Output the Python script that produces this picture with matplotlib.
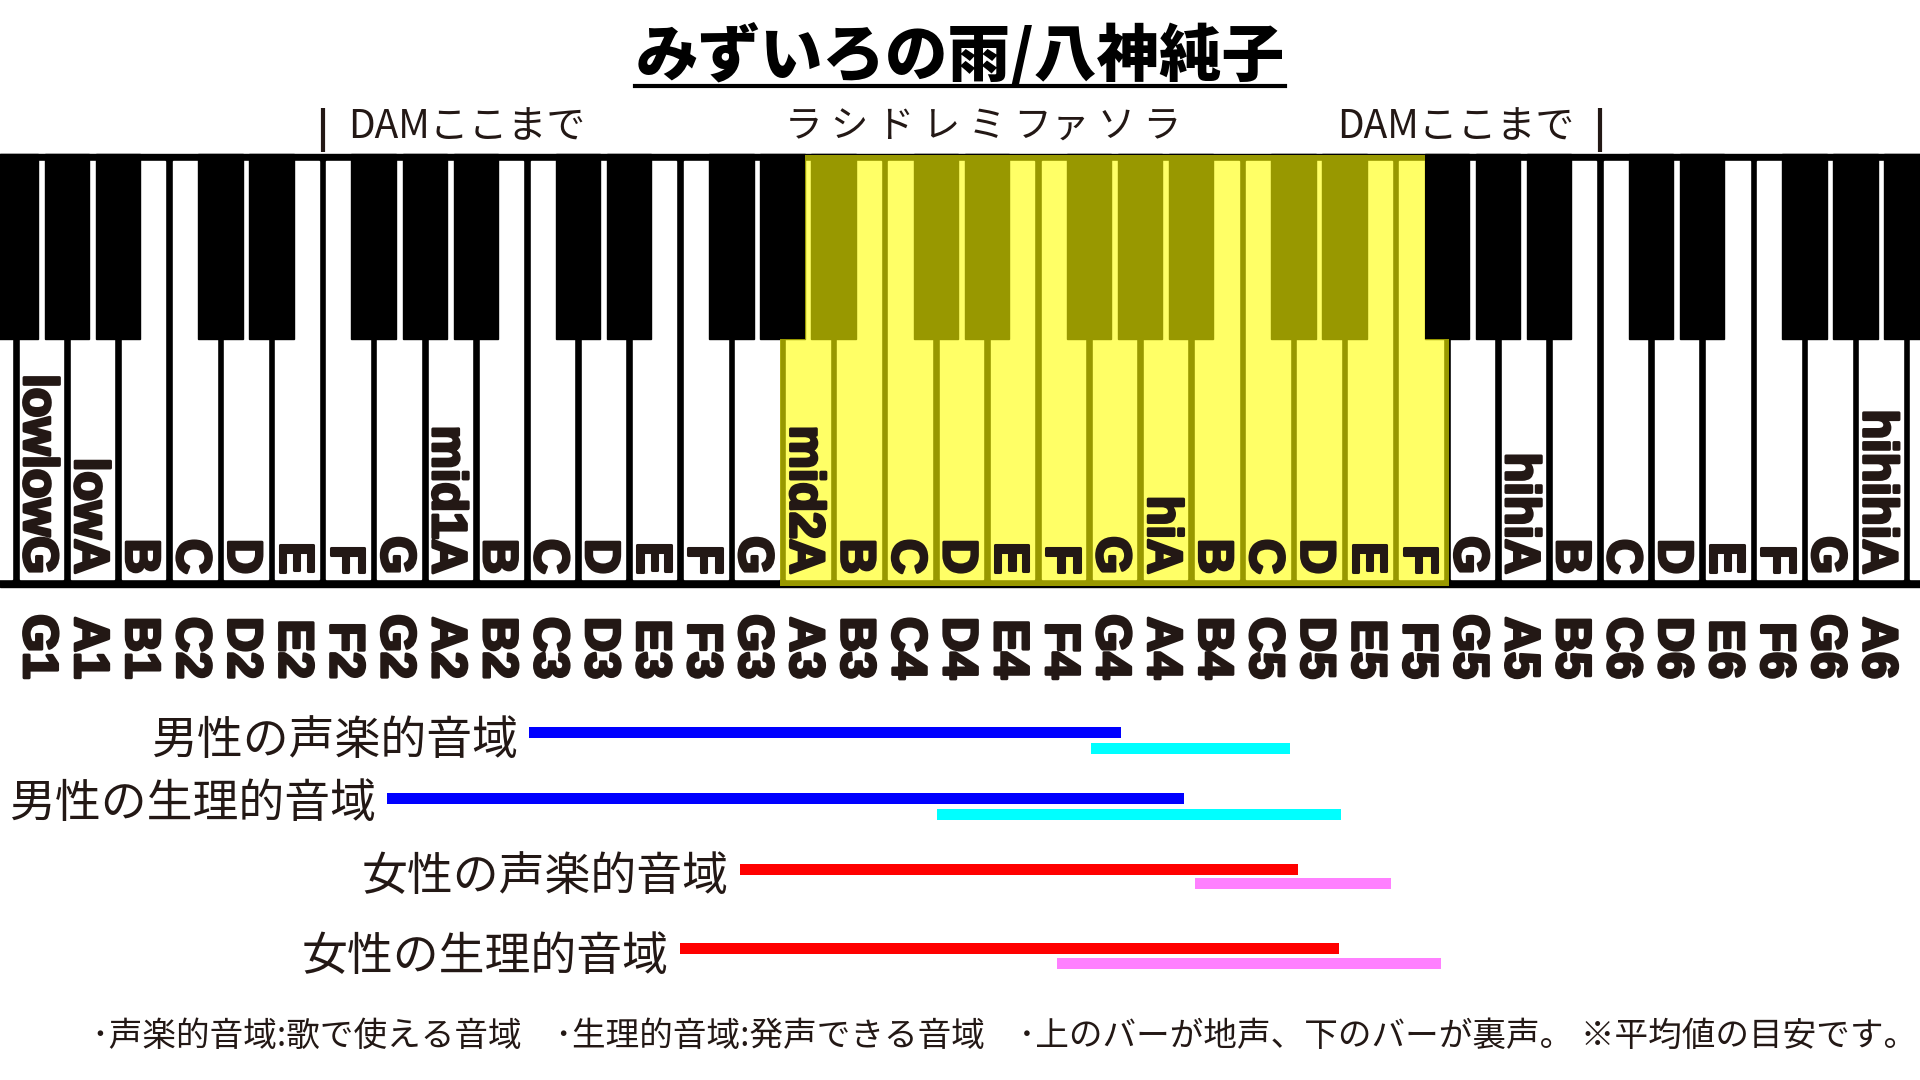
import matplotlib
matplotlib.use('Agg')
import matplotlib.pyplot as plt
import matplotlib.patheffects as pe
from matplotlib.patches import Rectangle, Polygon
from matplotlib.lines import Line2D

plt.rcParams['font.family'] = ['Noto Sans CJK JP', 'DejaVu Sans']

# ---- data -------------------------------------------------------------
# white keys from G1 (index 0) to A6 (index 36)
NOTE_LABELS = ['G1', 'A1', 'B1', 'C2', 'D2', 'E2', 'F2', 'G2', 'A2', 'B2',
               'C3', 'D3', 'E3', 'F3', 'G3', 'A3', 'B3', 'C4', 'D4', 'E4',
               'F4', 'G4', 'A4', 'B4', 'C5', 'D5', 'E5', 'F5', 'G5', 'A5',
               'B5', 'C6', 'D6', 'E6', 'F6', 'G6', 'A6']
KEY_NAMES = ['lowlowG', 'lowA', 'B', 'C', 'D', 'E', 'F', 'G', 'mid1A',
             'B', 'C', 'D', 'E', 'F', 'G', 'mid2A',
             'B', 'C', 'D', 'E', 'F', 'G', 'hiA',
             'B', 'C', 'D', 'E', 'F', 'G', 'hihiA',
             'B', 'C', 'D', 'E', 'F', 'G', 'hihihiA']

SONG_TITLE = 'みずいろの雨/八神純子'
SONG_LOW, SONG_HIGH = 15, 27          # A3 .. F5 (highlighted keys)
SOLFEGE = ['ラ', 'シ', 'ド', 'レ', 'ミ', 'ファ', 'ソ', 'ラ']   # from A3
DAM_LOW, DAM_HIGH = 5.5, 30.5         # key boundaries of the DAM marks

RANGE_LABELS = ['男性の声楽的音域', '男性の生理的音域',
                '女性の声楽的音域', '女性の生理的音域']
# positions in white-key units (G1 = 0)
CHEST_START = [9.54, 6.76, 13.67, 12.49]
CHEST_END = [21.13, 22.36, 24.59, 25.39]
FALSETTO_START = [20.54, 17.52, 22.57, 19.87]
FALSETTO_END = [24.43, 25.43, 26.41, 27.39]
CHEST_COLORS = ['#0000ff', '#0000ff', '#ff0000', '#ff0000']
FALSETTO_COLORS = ['#00ffff', '#00ffff', '#ff80ff', '#ff80ff']

FOOTER = ('･声楽的音域:歌で使える音域　･生理的音域:発声できる音域　'
          '･上のバーが地声、下のバーが裏声。 ※平均値の目安です。')

# ---- layout -----------------------------------------------------------
INK = '#231815'
PITCH = 51.1          # pixels per white key
FIRST = 41.5          # pixel centre of G1
KB_TOP, KB_BOTTOM = 154, 587
WHITE_TOP, WHITE_BOTTOM = 161, 579
BLACK_BOTTOM = 339
WHITE_W, BLACK_W = 0.85, 0.87
CHEST_Y = [732.5, 798.5, 869, 948]
FALSETTO_Y = [748, 814, 883.5, 963.5]
LABEL_Y = [741, 804, 877, 957]
LATIN = 'Liberation Sans'
KEY_FS = 35
heavy = [pe.withStroke(linewidth=2.2, foreground=INK)]

fig = plt.figure(figsize=(19.2, 10.8), dpi=100)
ax = fig.add_axes([0, 0, 1, 1])
x0, x1 = -FIRST / PITCH, (1920 - FIRST) / PITCH
ax.set_xlim(x0, x1)
ax.set_ylim(1080, 0)
ax.axis('off')

# keyboard
ax.add_patch(Rectangle((x0, KB_TOP), x1 - x0, KB_BOTTOM - KB_TOP, color='black'))
letters = 'GABCDEF'
for i in range(-1, 38):
    ax.add_patch(Rectangle((i - WHITE_W / 2, WHITE_TOP), WHITE_W,
                           WHITE_BOTTOM - WHITE_TOP, color='white'))
for i in range(-1, 38):
    if letters[i % 7] in 'CDFGA':
        ax.add_patch(Rectangle((i + 0.5 - BLACK_W / 2, KB_TOP), BLACK_W,
                               BLACK_BOTTOM - KB_TOP, color='black'))

# song range highlight
lo_out, hi_out = SONG_LOW - 0.545, SONG_HIGH + 0.545
lo_in, hi_in = SONG_LOW - 0.5 + BLACK_W / 2, SONG_HIGH + 0.5 - BLACK_W / 2
verts = [(lo_out, KB_BOTTOM - 1), (hi_out, KB_BOTTOM - 1), (hi_out, BLACK_BOTTOM),
         (hi_in, BLACK_BOTTOM), (hi_in, KB_TOP + 1), (lo_in, KB_TOP + 1),
         (lo_in, BLACK_BOTTOM), (lo_out, BLACK_BOTTOM)]
ax.add_patch(Polygon(verts, closed=True, facecolor='#ffff00', alpha=0.6,
                     edgecolor='none'))

# rotated key texts
cap_half = 0.716 * KEY_FS * 100 / 72 / PITCH / 2
for i, name in enumerate(KEY_NAMES):
    ax.text(i - cap_half, 574, name, rotation=270, rotation_mode='anchor',
            ha='right', va='baseline', fontsize=KEY_FS, fontweight='bold',
            family=LATIN, color=INK, path_effects=heavy)
for i, name in enumerate(NOTE_LABELS):
    ax.text(i - cap_half, 679, name, rotation=270, rotation_mode='anchor',
            ha='right', va='baseline', fontsize=KEY_FS, fontweight='bold',
            family=LATIN, color=INK, path_effects=heavy)

# line above keyboard
ax.text(SONG_LOW - 0.45, 127, ' '.join(SOLFEGE), ha='left', va='center',
        fontsize=27, color=INK)
ax.vlines([DAM_LOW, DAM_HIGH], 108, 152, color=INK, lw=3)
ax.text(DAM_LOW + 0.5, 127, 'DAMここまで', ha='left', va='center', fontsize=28, color=INK)
ax.text(DAM_HIGH - 0.5, 127, 'DAMここまで', ha='right', va='center', fontsize=28, color=INK)

# range bars
for k, label in enumerate(RANGE_LABELS):
    ax.barh(CHEST_Y[k], CHEST_END[k] - CHEST_START[k], left=CHEST_START[k],
            height=11, color=CHEST_COLORS[k])
    ax.barh(FALSETTO_Y[k], FALSETTO_END[k] - FALSETTO_START[k],
            left=FALSETTO_START[k], height=11, color=FALSETTO_COLORS[k])
    ax.text(CHEST_START[k] - 0.22, LABEL_Y[k], label, ha='right', va='center',
            fontsize=33, color=INK)

# title with underline
title = fig.text(0.5, 1 - 56 / 1080, SONG_TITLE, ha='center', va='center',
                 fontsize=45, fontweight='heavy', color='black')
fig.canvas.draw()
bb = title.get_window_extent().transformed(fig.transFigure.inverted())
fig.add_artist(Line2D([bb.x0, bb.x1], [1 - 86 / 1080] * 2, color='black', lw=3,
                      transform=fig.transFigure))

fig.text(92 / 1920, 1 - 1036 / 1080, FOOTER, ha='left', va='center',
         fontsize=24.2, color=INK)

fig.savefig('out.png', dpi=100, facecolor='white')
